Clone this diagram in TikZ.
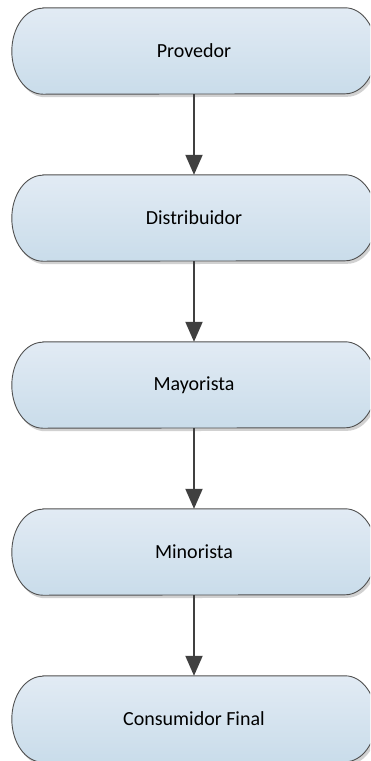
\documentclass[tikz,border=0pt]{standalone}
\usepackage{fontspec}
\setmainfont{Carlito}
\usetikzlibrary{arrows.meta}
\definecolor{boxtop}{HTML}{E2EBF4}
\definecolor{boxbot}{HTML}{C9DCEA}
\definecolor{edgecol}{HTML}{505050}
\definecolor{arrowcol}{HTML}{404040}
\tikzset{
  stage/.style={rectangle, minimum width=364pt, minimum height=86pt, inner sep=0pt,
    font=\fontsize{20}{24}\selectfont, text=black},
  connector/.style={draw=arrowcol, line width=2pt, -{Triangle[length=20pt,width=17pt]}},
}
\newcommand{\stageshape}[1]{%
  \fill[black!18] ([xshift=33pt,yshift=-3pt]#1.north west) -- ([xshift=-29pt,yshift=-3pt]#1.north east)
    arc[start angle=90,end angle=-90,x radius=31pt,y radius=43pt]
    -- ([xshift=33pt,yshift=-3pt]#1.south west)
    arc[start angle=270,end angle=90,x radius=31pt,y radius=43pt] -- cycle;
  \shade[top color=boxtop, bottom color=boxbot, draw=edgecol, line width=0.9pt]
    ([xshift=31pt]#1.north west) -- ([xshift=-31pt]#1.north east)
    arc[start angle=90,end angle=-90,x radius=31pt,y radius=43pt]
    -- ([xshift=31pt]#1.south west)
    arc[start angle=270,end angle=90,x radius=31pt,y radius=43pt] -- cycle;
}
\begin{document}
\begin{tikzpicture}[x=1pt,y=1pt]
\useasboundingbox (0,0) rectangle (370,-761);
\begin{scope}
\clip (0,0) rectangle (370,-761);
\node[stage] (a) at (194,-51) {};
\node[stage] (b) at (194,-218) {};
\node[stage] (c) at (194,-385) {};
\node[stage] (d) at (194,-552) {};
\node[stage] (e) at (194,-719) {};
\stageshape{a}
\stageshape{b}
\stageshape{c}
\stageshape{d}
\stageshape{e}
\node[stage] at (a) {Provedor};
\node[stage] at (b) {Distribuidor};
\node[stage] at (c) {Mayorista};
\node[stage] at (d) {Minorista};
\node[stage] at (e) {Consumidor Final};
\draw[connector] (a.south) -- (b.north);
\draw[connector] (b.south) -- (c.north);
\draw[connector] (c.south) -- (d.north);
\draw[connector] (d.south) -- (e.north);
\end{scope}
\end{tikzpicture}
\end{document}
